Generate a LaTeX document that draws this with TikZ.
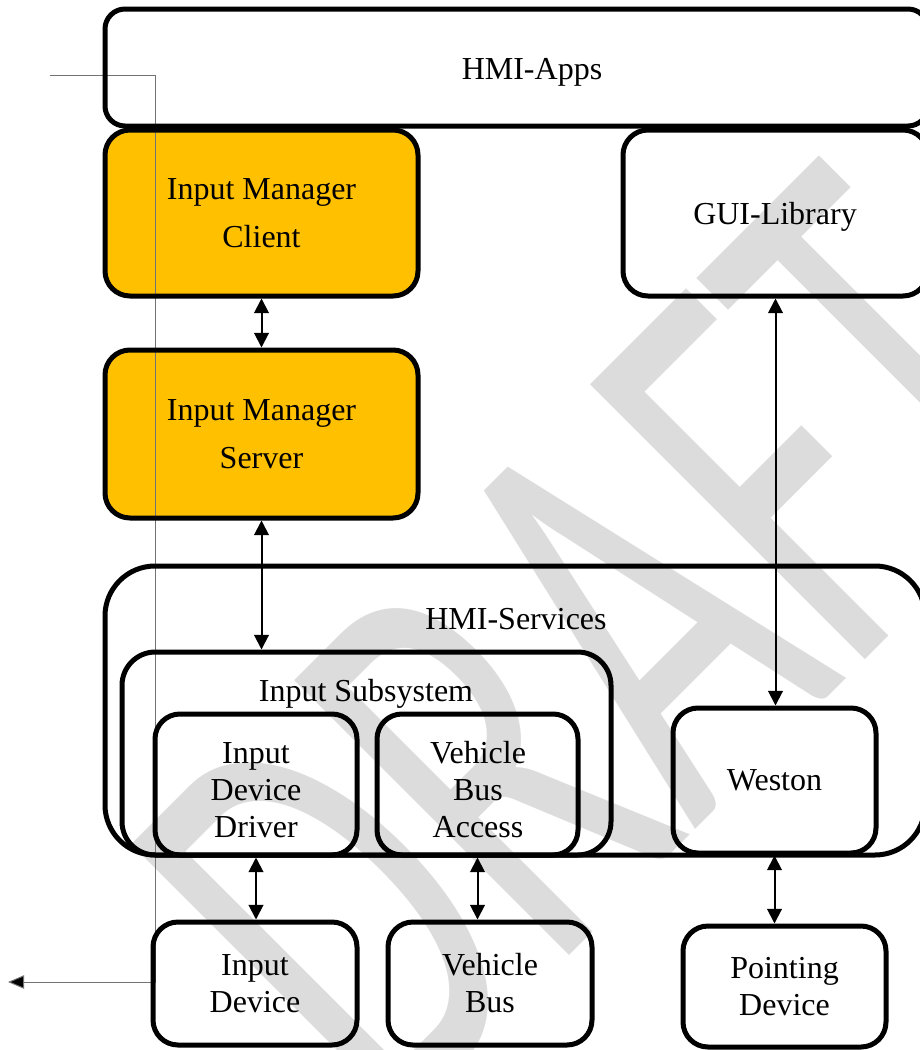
\documentclass[tikz,border=0pt]{standalone}
\usepackage{fontspec}
\setmainfont{Liberation Serif}
\newfontfamily\wmfont{Carlito}
\usetikzlibrary{arrows.meta}
\definecolor{imorange}{HTML}{FFC000}
\definecolor{wmgray}{HTML}{DCDCDC}
\pgfdeclarelayer{wm}
\pgfdeclarelayer{fills}
\pgfsetlayers{wm,fills,main}
\begin{document}
\begin{tikzpicture}[x=0.75pt,y=-0.75pt,
  box/.style={draw, line width=3.75pt, rounded corners=18.75pt, inner sep=0pt, outer sep=0pt,
    align=center, font=\fontsize{24}{27.75}\selectfont},
  obox/.style={box, font=\fontsize{24}{36}\selectfont},
  lbl/.style={inner sep=0pt, align=center, font=\fontsize{24}{27.75}\selectfont},
  conn/.style={{Triangle[length=11pt,width=11pt]}-{Triangle[length=11pt,width=11pt]},
    line width=1.5pt, shorten <=1.875pt, shorten >=1.875pt},
  guide/.style={draw=black!55, line width=0.75pt}]
\useasboundingbox (0,0) rectangle (920,1050);

% watermark
\begin{pgfonlayer}{wm}
  \node[anchor=base west, inner sep=0pt, outer sep=0pt, rotate=45, yscale=1.62,
        text=wmgray, font=\wmfont\fontsize{280.5pt}{300pt}\selectfont] (draft) at (388,1137) {DRAFT};
\end{pgfonlayer}

% thin guide line
\coordinate (g1) at (50,75);
\coordinate (g2) at (155,75);
\coordinate (g3) at (155,982);
\coordinate (g4) at (8,982);
\draw[guide, -{Triangle[length=12pt,width=10pt,fill=black]}] (g1) -- (g2) -- (g3) -- (g4);

% top row
\node[box, rounded corners=15pt, minimum width=617.25pt, minimum height=87.75pt] (apps) at (516.5,67.5) {};
\node[lbl] (appslbl) at (532,72) {HMI-Apps};
\node[obox, minimum width=234.75pt, minimum height=124.5pt] (client) at (261.5,213) {Input Manager\\Client};
\node[box, minimum width=228.75pt, minimum height=124.5pt] (gui) at (775.5,213) {};
\node[lbl] (guilbl) at (775,217) {GUI-Library};
\node[obox, minimum width=234.75pt, minimum height=126pt] (server) at (261.5,434) {Input Manager\\Server};

% services
\node[box, rounded corners=37.5pt, minimum width=615pt, minimum height=216.75pt] (services) at (515,710.5) {};
\node[lbl] (svclbl) at (516,619) {HMI-Services};
\node[box, rounded corners=25pt, minimum width=366.75pt, minimum height=152.25pt] (subsys) at (366.5,753.5) {};
\node[lbl] (subsyslbl) at (366,694) {Input Subsystem};
\node[box, minimum width=151.5pt, minimum height=105.75pt] (driver) at (256,784.5) {};
\node[lbl] (driverlbl) at (256,790) {Input\\Device\\Driver};
\node[box, minimum width=150.75pt, minimum height=105.75pt] (vba) at (477.5,784.5) {};
\node[lbl] (vbalbl) at (478,790) {Vehicle\\Bus\\Access};
\node[box, minimum width=152.25pt, minimum height=108.75pt] (weston) at (774.5,780.5) {Weston};

% bottom row
\node[box, minimum width=153pt, minimum height=92.25pt] (indev) at (255,983.5) {Input\\Device};
\node[box, minimum width=153pt, minimum height=92.25pt] (vbus) at (490,983.5) {Vehicle\\Bus};
\node[box, minimum width=152.25pt, minimum height=90.75pt] (pdev) at (784.5,986.5) {Pointing\\Device};

% orange fills
\begin{pgfonlayer}{fills}
  \fill[imorange, rounded corners=18.75pt] (client.south west) rectangle (client.north east);
  \fill[imorange, rounded corners=18.75pt] (server.south west) rectangle (server.north east);
\end{pgfonlayer}

% connectors
\draw[conn] (client.south) -- (server.north);
\draw[conn] (server.south) -- (server.south |- subsys.north);
\draw[conn] (gui.south) -- (gui.south |- weston.north);
\draw[conn] (driver.south) -- (driver.south |- indev.north);
\draw[conn] (vba.south) -- (vba.south |- vbus.north);
\draw[conn] (weston.south) -- (weston.south |- pdev.north);
\end{tikzpicture}
\end{document}
